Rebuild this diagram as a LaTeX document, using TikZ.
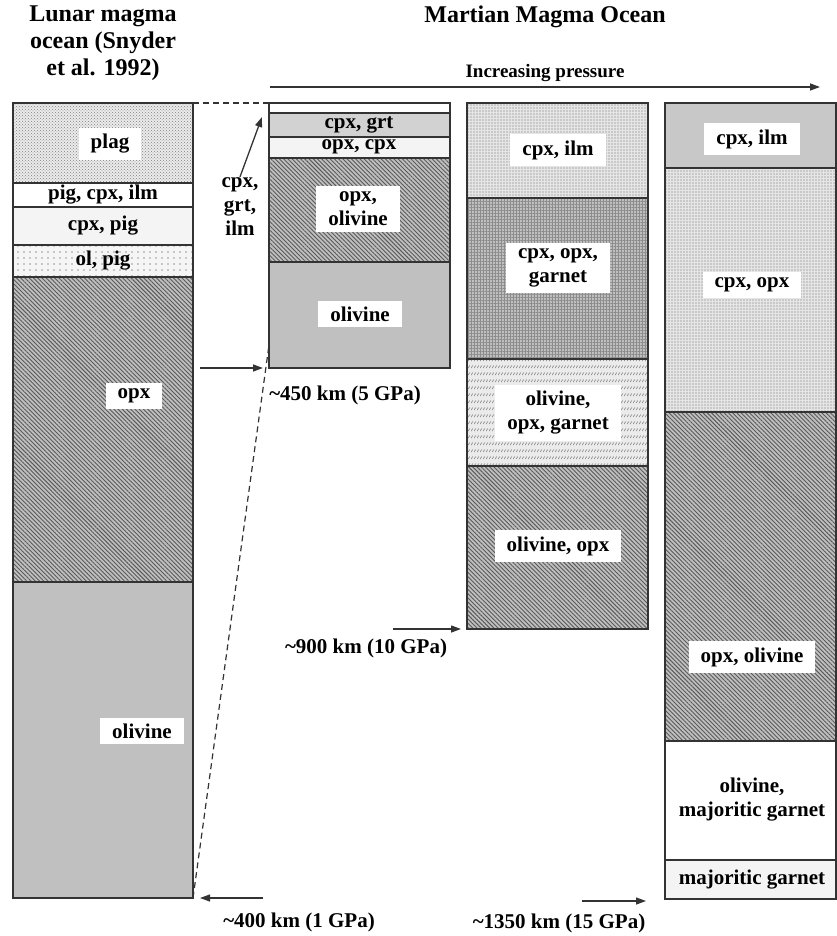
\documentclass[tikz,border=0pt]{standalone}
\usepackage{fontspec}
\setmainfont{Liberation Serif}
\usetikzlibrary{arrows.meta,patterns,patterns.meta}
\definecolor{edge}{HTML}{333333}
\definecolor{olgray}{HTML}{C0C0C0}
\definecolor{grtgray}{HTML}{D2D2D2}
\definecolor{ilmgray}{HTML}{C8C8C8}
\definecolor{pale}{HTML}{F4F4F4}
\definecolor{ink}{HTML}{6E6E6E}
\newcommand\lblfont{\fontsize{21}{24}\selectfont\bfseries}
\newcommand\ttlfont{\fontsize{24}{27}\selectfont\bfseries}
\tikzdeclarepattern{name=ticks, type=uncolored,
  bottom left={(0pt,0pt)}, top right={(3pt,7pt)}, tile size={(3pt,7pt)},
  code={\draw[line width=.7pt] (0pt,1pt) -- (2.5pt,4pt);}}

\begin{document}
\begin{tikzpicture}[x=1pt, y=-1pt,
  lbl/.style={font=\lblfont, align=center, inner sep=1pt},
  boxlbl/.style={font=\lblfont, align=center, fill=white, inner xsep=12pt, inner ysep=6pt},
  layer/.style={draw=edge, line width=1.5pt},
  olv/.style={layer, fill=olgray},
  grt/.style={layer, fill=grtgray},
  ilm/.style={layer, fill=ilmgray},
  light/.style={layer, fill=pale},
  blank/.style={layer, fill=white},
  hatch/.style={layer, preaction={fill=black!25}, pattern={Lines[angle=-45,distance=3pt,line width=.9pt]}, pattern color=black!65},
  plagdots/.style={layer, preaction={fill=black!8}, pattern=crosshatch dots, pattern color=black!50},
  sparse/.style={layer, preaction={fill=black!4}, pattern={Dots[distance=6pt,radius=.8pt]}, pattern color=black!40},
  fine/.style={layer, preaction={fill=black!10}, pattern={Dots[distance=3pt,radius=.6pt]}, pattern color=ink},
  mesh/.style={layer, preaction={fill=black!25}, pattern={Hatch[angle=0,distance=3pt,line width=.5pt]}, pattern color=black!45},
  wavy/.style={layer, preaction={fill=black!8}, pattern=ticks, pattern color=black!50},
  pointer/.style={-{Triangle[length=10pt,width=7pt]}, line width=1.3pt, edge},
  guide/.style={dash pattern=on 6pt off 4pt, line width=1.2pt, edge}
]
  \useasboundingbox (0,0) rectangle (837,936);

  % titles
  \node[font=\ttlfont, align=center] (lunar) at (103,43) {Lunar magma\\ocean (Snyder\\et al. 1992)};
  \node[font=\ttlfont] (mars) at (545,17) {Martian Magma Ocean};
  \node[font=\fontsize{19}{22}\selectfont\bfseries] (press) at (545,73) {Increasing pressure};
  \coordinate (p0) at (270,87);
  \coordinate (p1) at (820,87);
  \draw[pointer] (p0) -- (p1);

  % lunar column
  \draw[plagdots] (13,103) rectangle (193,183);
  \draw[blank] (13,183) rectangle (193,207);
  \draw[light] (13,207) rectangle (193,245);
  \draw[sparse] (13,245) rectangle (193,277);
  \draw[hatch] (13,277) rectangle (193,582);
  \draw[olv] (13,582) rectangle (193,898);
  \node[boxlbl] (l1) at (110,144) {plag};
  \node[lbl] (l2) at (103,195) {pig, cpx, ilm};
  \node[lbl] (l3) at (103,226) {cpx, pig};
  \node[lbl] (l4) at (103,261) {ol, pig};
  \node[boxlbl] (l5) at (134,396) {opx};
  \node[boxlbl] (l6) at (142,731) {olivine};
  \coordinate (lun-tr) at (193,103);
  \coordinate (lun-br) at (193,898);

  % ~450 km column
  \draw[blank] (269,103) rectangle (450,113);
  \draw[grt] (269,113) rectangle (450,137);
  \draw[light] (269,137) rectangle (450,158);
  \draw[hatch] (269,158) rectangle (450,262);
  \draw[olv] (269,262) rectangle (450,368);
  \node[lbl] (a1) at (359,125) {cpx, grt};
  \node[lbl] (a2) at (359,147) {opx, cpx};
  \node[boxlbl] (a3) at (358,209) {opx,\\olivine};
  \node[boxlbl] (a4) at (360,314) {olivine};
  \coordinate (c2-tl) at (269,103);
  \coordinate (c2-l) at (269,345);

  % ~900 km column
  \draw[fine] (467,103) rectangle (648,198);
  \draw[mesh] (467,198) rectangle (648,359);
  \draw[wavy] (467,359) rectangle (648,466);
  \draw[hatch] (467,466) rectangle (648,629);
  \node[boxlbl] (b1) at (558,150) {cpx, ilm};
  \node[boxlbl] (b2) at (558,268) {cpx, opx,\\garnet};
  \node[boxlbl] (b3) at (558,413) {olivine,\\opx, garnet};
  \node[boxlbl] (b4) at (558,546) {olivine, opx};

  % ~1350 km column
  \draw[ilm] (665,103) rectangle (836,168);
  \draw[fine] (665,168) rectangle (836,412);
  \draw[hatch] (665,412) rectangle (836,741);
  \draw[blank] (665,741) rectangle (836,860);
  \draw[light] (665,860) rectangle (836,899);
  \node[boxlbl] (d1) at (752,139) {cpx, ilm};
  \node[boxlbl] (d2) at (752,285) {cpx, opx};
  \node[boxlbl] (d3) at (752,657) {opx, olivine};
  \node[lbl] (d4) at (752,800) {olivine,\\majoritic garnet};
  \node[lbl] (d5) at (752,880) {majoritic garnet};

  % expansion guides
  \draw[guide] (lun-tr) -- (c2-tl);
  \draw[guide] (lun-br) -- (c2-l);

  % cpx, grt, ilm callout
  \node[lbl] (cgi) at (240,207) {cpx,\\grt,\\ilm};
  \coordinate (cgi-tip) at (262,117);
  \draw[pointer] (cgi.north) -- (cgi-tip);

  % depth markers
  \coordinate (m1a) at (200,368);
  \coordinate (m1b) at (263,368);
  \draw[pointer] (m1a) -- (m1b);
  \node[lbl] (m1) at (345,395) {\textasciitilde450 km (5 GPa)};
  \coordinate (m2a) at (393,629);
  \coordinate (m2b) at (461,629);
  \draw[pointer] (m2a) -- (m2b);
  \node[lbl] (m2) at (366,648) {\textasciitilde900 km (10 GPa)};
  \coordinate (m3a) at (263,898);
  \coordinate (m3b) at (200,898);
  \draw[pointer] (m3a) -- (m3b);
  \node[lbl] (m3) at (299,922) {\textasciitilde400 km (1 GPa)};
  \coordinate (m4a) at (582,901);
  \coordinate (m4b) at (646,901);
  \draw[pointer] (m4a) -- (m4b);
  \node[lbl] (m4) at (559,923) {\textasciitilde1350 km (15 GPa)};
\end{tikzpicture}
\end{document}
